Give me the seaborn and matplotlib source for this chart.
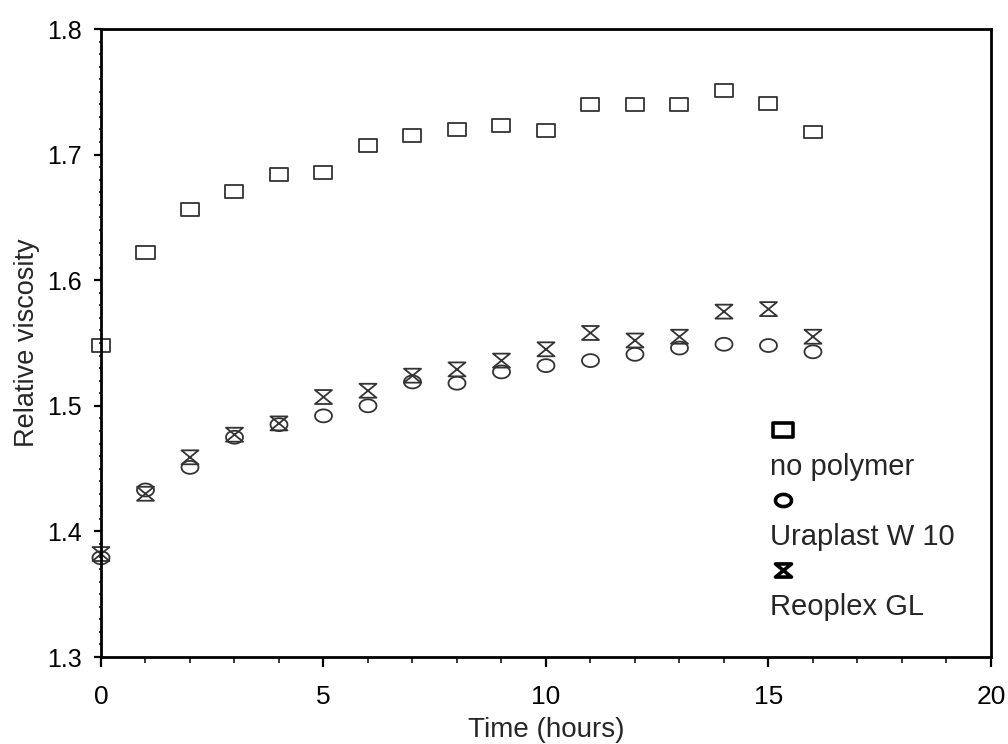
import numpy as np
import pandas as pd
import matplotlib
matplotlib.use("Agg")
import matplotlib.pyplot as plt
import seaborn as sns
from matplotlib.path import Path
from matplotlib.lines import Line2D
from matplotlib.ticker import MultipleLocator, FormatStrFormatter

# ---- data ----
time_h = list(range(17))
no_polymer = [1.548, 1.622, 1.656, 1.671, 1.684, 1.686, 1.707, 1.715, 1.720,
              1.723, 1.719, 1.740, 1.740, 1.740, 1.751, 1.741, 1.718]
uraplast_w10 = [1.379, 1.433, 1.451, 1.475, 1.485, 1.492, 1.500, 1.519, 1.518,
                1.527, 1.532, 1.536, 1.541, 1.546, 1.549, 1.548, 1.543]
reoplex_gl = [1.382, 1.430, 1.459, 1.477, 1.486, 1.507, 1.512, 1.524, 1.529,
              1.536, 1.545, 1.558, 1.552, 1.555, 1.575, 1.577, 1.555]
series_names = ["no polymer", "Uraplast W 10", "Reoplex GL"]
x_ticks = [0, 5, 10, 15, 20]
y_ticks = [1.3, 1.4, 1.5, 1.6, 1.7, 1.8]

# ---- marker shapes ----
rect = Path([(-1, -0.72), (1, -0.72), (1, 0.72), (-1, 0.72), (-1, -0.72)],
            [Path.MOVETO, Path.LINETO, Path.LINETO, Path.LINETO, Path.CLOSEPOLY])
t = np.linspace(0, 2 * np.pi, 60)
ell = Path(np.column_stack([np.cos(t), 0.76 * np.sin(t)]))
hour = Path([(-1, 0.82), (1, 0.82), (-1, -0.82), (1, -0.82), (-1, 0.82)],
            [Path.MOVETO, Path.LINETO, Path.LINETO, Path.LINETO, Path.CLOSEPOLY])
shapes = [rect, ell, hour]
sizes = [168, 150, 150]
legend_sizes = [14, 11.5, 11.5]

sns.set_style("ticks")
plt.rcParams["font.family"] = ["Liberation Sans", "DejaVu Sans"]

fig = plt.figure(figsize=(10.08, 7.44), dpi=100)
ax = fig.add_axes([0.1002, 0.1169, 0.8829, 0.8441])

df = pd.DataFrame({"Time": time_h * 3,
                   "Viscosity": no_polymer + uraplast_w10 + reoplex_gl,
                   "Series": sum([[n] * len(time_h) for n in series_names], [])})

edge = "#333333"
for name, shp, sz in zip(series_names, shapes, sizes):
    sub = df[df["Series"] == name]
    sns.scatterplot(data=sub, x="Time", y="Viscosity", marker=shp, s=sz,
                    facecolor="none", edgecolor=edge, linewidth=1.3,
                    ax=ax, legend=False, clip_on=False, zorder=3)

ax.set_xlim(0, 20)
ax.set_ylim(1.3, 1.8)
ax.set_xticks(x_ticks)
ax.set_yticks(y_ticks)
ax.yaxis.set_major_formatter(FormatStrFormatter("%.1f"))
ax.xaxis.set_minor_locator(MultipleLocator(1))
ax.yaxis.set_minor_locator(MultipleLocator(0.01))

for sp in ax.spines.values():
    sp.set_visible(True)
    sp.set_color("black")
    sp.set_linewidth(2.0)
    sp.set_zorder(4)

ax.tick_params(axis="x", which="major", direction="out", length=7, width=1.6,
               labelsize=19, pad=13, colors="black")
ax.tick_params(axis="x", which="minor", direction="out", length=4, width=1.3)
ax.tick_params(axis="y", which="major", direction="out", length=5, width=1.6,
               labelsize=18, pad=9, colors="black")
ax.tick_params(axis="y", which="minor", direction="out", length=1.5, width=1.3)
ax.tick_params(top=False, right=False, which="both")

ax.set_xlabel("Time (hours)", fontsize=20, labelpad=6)
ax.set_ylabel("Relative viscosity", fontsize=19.5, labelpad=5)

# ---- legend: marker above its label ----
handles, labels = [], []
for name, shp, ms in zip(series_names, shapes, legend_sizes):
    handles.append(Line2D([], [], linestyle="none", marker=shp, markersize=ms,
                          markerfacecolor="none", markeredgecolor="black",
                          markeredgewidth=2.6))
    labels.append(" ")
    handles.append(Line2D([], [], linestyle="none"))
    labels.append(name)
ax.legend(handles, labels, loc="upper left", bbox_to_anchor=(0.752, 0.38),
          frameon=False, fontsize=21, handlelength=0.9, handletextpad=-0.9,
          labelspacing=0.24, borderpad=0, borderaxespad=0)

fig.savefig("out.png", dpi=100)
